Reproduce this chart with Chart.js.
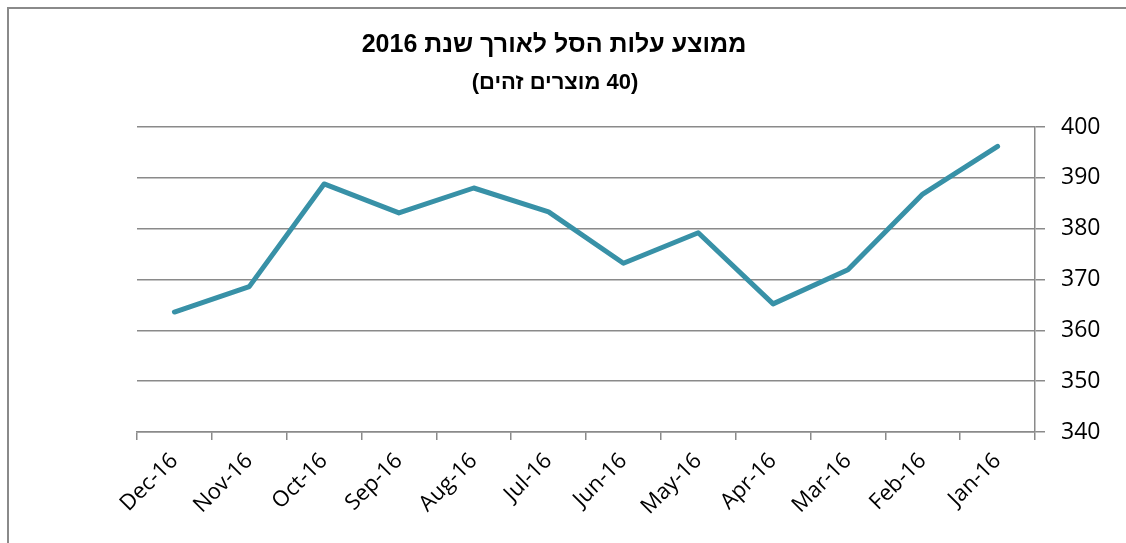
<!DOCTYPE html>
<html>
<head>
<meta charset="utf-8">
<script src="https://cdn.jsdelivr.net/npm/chart.js@4"></script>
<style>
  html, body { margin: 0; padding: 0; background: #fff; }
  #wrap { width: 1126px; height: 543px; position: relative; }
</style>
</head>
<body>
<div id="wrap"><canvas id="chart" width="1126" height="543"></canvas></div>
<script>
// months run from right to left like the original sheet
const months = ['Dec-16', 'Nov-16', 'Oct-16', 'Sep-16', 'Aug-16', 'Jul-16',
                'Jun-16', 'May-16', 'Apr-16', 'Mar-16', 'Feb-16', 'Jan-16'];
const avgCost = [363.6, 368.6, 388.8, 383.1, 388.0, 383.3,
                 373.2, 379.2, 365.2, 371.9, 386.8, 396.2];
const titleText = 'ממוצע עלות הסל לאורך שנת 2016';
const subtitleText = '(40 מוצרים זהים)';

const gridGray = '#8a8a8a';

// frame + titles
const frameAndTitle = {
    id: 'frameAndTitle',
    beforeDraw(chart) {
        const { ctx } = chart;
        ctx.save();
        ctx.fillStyle = '#fff';
        ctx.fillRect(0, 0, chart.width, chart.height);
        ctx.strokeStyle = gridGray;
        ctx.lineWidth = 2;
        ctx.beginPath();
        ctx.moveTo(8, chart.height);
        ctx.lineTo(8, 8);
        ctx.lineTo(chart.width, 8);
        ctx.stroke();
        ctx.restore();
    },
    afterDraw(chart) {
        const { ctx } = chart;
        ctx.save();
        ctx.fillStyle = '#000';
        ctx.textAlign = 'center';
        ctx.textBaseline = 'middle';
        ctx.direction = 'rtl';
        ctx.font = 'bold 25px "Liberation Sans", Arial, sans-serif';
        ctx.fillText(titleText, 554, 45);
        ctx.font = 'bold 22px "Liberation Sans", Arial, sans-serif';
        ctx.fillText(subtitleText, 555, 83);
        ctx.restore();
    }
};

const config = {
    type: 'line',
    data: {
        labels: months,
        datasets: [{
            data: avgCost,
            borderColor: '#3891a7',
            borderWidth: 5,
            borderCapStyle: 'round',
            borderJoinStyle: 'round',
            pointRadius: 0,
            tension: 0
        }]
    },
    options: {
        responsive: false,
        animation: false,
        layout: {
            padding: { top: 127, left: 137, right: 0, bottom: 0 }
        },
        plugins: {
            legend: { display: false },
            title: { display: false },
            tooltip: { enabled: false }
        },
        scales: {
            x: {
                offset: true,
                grid: {
                    offset: true,
                    drawOnChartArea: false,
                    color: gridGray,
                    lineWidth: 1.5,
                    tickLength: 8
                },
                border: { display: true, color: gridGray, width: 1.5 },
                ticks: {
                    autoSkip: false,
                    minRotation: 45,
                    maxRotation: 45,
                    padding: 8,
                    color: '#000',
                    font: { family: '"Open Sans", sans-serif', size: 22 }
                },
                afterFit(scale) { scale.height = 111; }
            },
            y: {
                position: 'right',
                min: 340,
                max: 400,
                ticks: {
                    stepSize: 10,
                    padding: 16,
                    color: '#000',
                    font: { family: '"Open Sans", sans-serif', size: 23 }
                },
                grid: {
                    color: gridGray,
                    lineWidth: 1.5,
                    tickLength: 10
                },
                border: { display: true, color: gridGray, width: 1.5 },
                afterFit(scale) { scale.width = 91; }
            }
        }
    },
    plugins: [frameAndTitle]
};

const chart = new Chart(document.getElementById('chart'), config);
</script>
</body>
</html>
